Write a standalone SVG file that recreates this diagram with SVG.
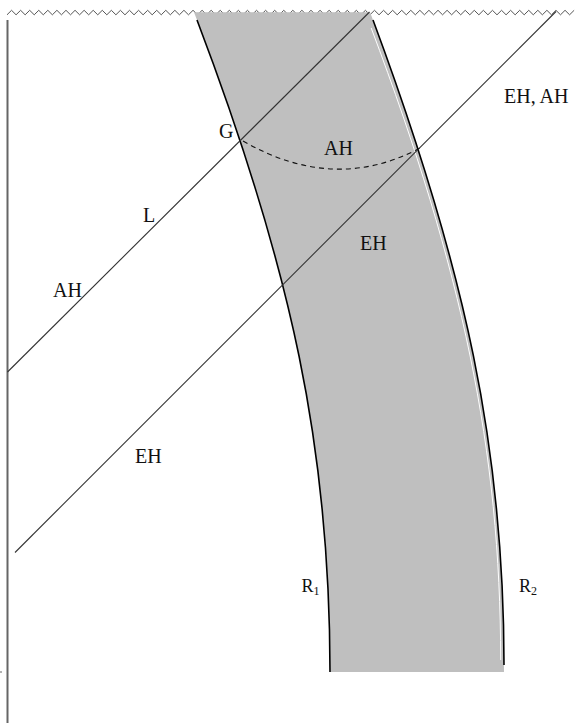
<svg xmlns="http://www.w3.org/2000/svg" width="575" height="723" viewBox="0 0 575 723">
<style>
.lbl{font-family:"Liberation Serif","Times New Roman",serif;font-size:20px;fill:#111}
.sm{font-family:"Liberation Serif","Times New Roman",serif;font-size:18px;fill:#111}
.sub{font-size:12px}
.diag{stroke:#333;stroke-width:1.1;fill:none}
.curve{stroke:#000;stroke-width:1.6;fill:none}
</style>
<rect width="575" height="723" fill="#fff"/>
<g id="boundary">
<path id="zigzag" fill="none" stroke="#555" stroke-width="1" d="M7,14.8 l4.537,-4.5 4.537,4.5 4.537,-4.5 4.537,4.5 4.537,-4.5 4.537,4.5 4.537,-4.5 4.537,4.5 4.537,-4.5 4.537,4.5 4.537,-4.5 4.537,4.5 4.537,-4.5 4.537,4.5 4.537,-4.5 4.537,4.5 4.537,-4.5 4.537,4.5 4.537,-4.5 4.537,4.5 4.537,-4.5 4.537,4.5 4.537,-4.5 4.537,4.5 4.537,-4.5 4.537,4.5 4.537,-4.5 4.537,4.5 4.537,-4.5 4.537,4.5 4.537,-4.5 4.537,4.5 4.537,-4.5 4.537,4.5 4.537,-4.5 4.537,4.5 4.537,-4.5 4.537,4.5 4.537,-4.5 4.537,4.5 4.537,-4.5 4.537,4.5 4.537,-4.5 4.537,4.5 4.537,-4.5 4.537,4.5 4.537,-4.5 4.537,4.5 4.537,-4.5 4.537,4.5 4.537,-4.5 4.537,4.5 4.537,-4.5 4.537,4.5 4.537,-4.5 4.537,4.5 4.537,-4.5 4.537,4.5 4.537,-4.5 4.537,4.5 4.537,-4.5 4.537,4.5 4.537,-4.5 4.537,4.5 4.537,-4.5 4.537,4.5 4.537,-4.5 4.537,4.5 4.537,-4.5 4.537,4.5 4.537,-4.5 4.537,4.5 4.537,-4.5 4.537,4.5 4.537,-4.5 4.537,4.5 4.537,-4.5 4.537,4.5 4.537,-4.5 4.537,4.5 4.537,-4.5 4.537,4.5 4.537,-4.5 4.537,4.5 4.537,-4.5 4.537,4.5 4.537,-4.5 4.537,4.5 4.537,-4.5 4.537,4.5 4.537,-4.5 4.537,4.5 4.537,-4.5 4.537,4.5 4.537,-4.5 4.537,4.5 4.537,-4.5 4.537,4.5 4.537,-4.5 4.537,4.5 4.537,-4.5 4.537,4.5 4.537,-4.5 4.537,4.5 4.537,-4.5 4.537,4.5 4.537,-4.5 4.537,4.5 4.537,-4.5 4.537,4.5 4.537,-4.5 4.537,4.5 4.537,-4.5 4.537,4.5 4.537,-4.5 4.537,4.5 4.537,-4.5 4.537,4.5 4.537,-4.5 4.537,4.5 4.537,-4.5 4.537,4.5 4.537,-4.5 4.537,4.5 4.537,-4.5"/>
<line id="axis" x1="7.5" y1="20" x2="7.5" y2="723" stroke="#666" stroke-width="2"/>
<line x1="0" y1="672" x2="2" y2="672" stroke="#666" stroke-width="1"/>
</g>
<g id="shell">
<path fill="#bfbfbf" d="M194,12.3 L370,12.3 L373,20 C466,270 504,450 504,672 L330,672 C330,450 292,270 197,20 Z"/>
<path fill="none" stroke="#fff" stroke-width="1" d="M371.2,28 C462.5,270 500.5,450 500.7,660"/>
<path id="R1" class="curve" d="M197,20 C292,270 330,450 330,672"/>
<path id="R2" class="curve" d="M373,20 C466,270 504,450 504,665"/>
</g>
<g id="connectors">
<line id="L" class="diag" x1="7.5" y1="372" x2="369.5" y2="12"/>
<line id="EH" class="diag" x1="15" y1="552.5" x2="556" y2="11.5"/>
<path id="AHarc" d="M243,141 Q334.5,193.5 420,148" fill="none" stroke="#111" stroke-width="1.1" stroke-dasharray="5,4"/>
</g>
<g id="labels">
<text class="lbl" x="219" y="138">G</text>
<text class="lbl" x="324" y="155">AH</text>
<text class="lbl" x="504" y="103">EH, AH</text>
<text class="lbl" x="143" y="222">L</text>
<text class="lbl" x="53" y="297">AH</text>
<text class="lbl" x="360" y="250">EH</text>
<text class="lbl" x="135" y="463">EH</text>
<text class="sm" x="301.5" y="592">R<tspan class="sub" dy="3">1</tspan></text>
<text class="sm" x="519" y="592">R<tspan class="sub" dy="3">2</tspan></text>
</g>
</svg>
